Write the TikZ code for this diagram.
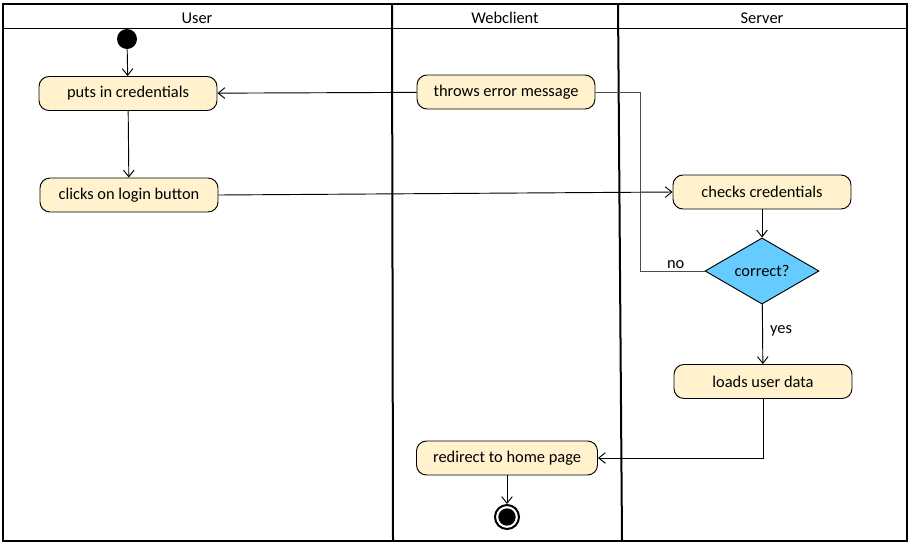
\documentclass[tikz,border=0pt]{standalone}
\usepackage{fontspec}
\setmainfont{Carlito}
\usetikzlibrary{arrows.meta,positioning,shapes.geometric}

\definecolor{actionfill}{RGB}{255,242,204}
\definecolor{decisionfill}{RGB}{102,204,255}

\begin{document}
\begin{tikzpicture}[
    x=0.75pt, y=-0.75pt,
    every path/.style={line width=0.7pt},
    font=\fontsize{12.3}{14}\selectfont,
    action/.style={draw, rounded corners=7.5pt, align=center, minimum width=133.5pt, minimum height=25.5pt, fill=actionfill},
    decision/.style={draw, diamond, fill=decisionfill, minimum width=85.5pt, minimum height=46.5pt, inner sep=0pt},
    initial/.style={circle, fill=black, minimum size=15pt, inner sep=0pt},
    final/.style={circle, draw, line width=1.5pt, minimum size=18pt, inner sep=0pt,
      path picture={\fill (path picture bounding box.center) circle (6.5pt);}},
    arrow/.style={-{Straight Barb[length=5pt,width=8pt]}},
    lane/.style={line width=1.5pt}
  ]
    \useasboundingbox (0,0) rectangle (912,547);

    % swimlanes
    \draw[lane] (3,4) rectangle (907,541);
    \draw (3,28) -- (907,28);
    \draw[lane] (392,4) -- (393,541);
    \draw[lane] (618,4) -- (622,541);
    \node (userlane) at (197,18) {User};
    \node (weblane) at (505,18) {Webclient};
    \node (serverlane) at (762,18) {Server};

    % user
    \node[initial] (start) at (127,39) {};
    \node[action] (puts) at (128,93.5) {puts in credentials};
    \node[action] (clicks) at (129,195) {clicks on login button};

    % webclient
    \node[action] (throws) at (506,92) {throws error message};
    \node[action, minimum width=135.75pt] (redirect) at (507,458) {redirect to home page};
    \node[final] (stop) at (507,517) {};

    % server
    \node[action] (checks) at (762,192) {checks credentials};
    \node[decision] (correct) at (762,271) {correct?};
    \node[action] (loads) at (763,381.5) {loads user data};

    \draw[arrow] (start) -- (puts);
    \draw[arrow] (puts) -- (clicks);
    \draw[arrow] (throws) -- (puts);
    \draw[arrow] (clicks.east) -- (checks.west);
    \draw[arrow] (checks) -- (correct);
    \draw[black!70] (correct.west) -- node[above, black, pos=0.45, yshift=-2pt] {no} ++(-64,0) |- (throws.east);
    \draw[arrow] (correct) -- node[right, xshift=2pt, pos=0.45] {yes} (loads);
    \draw[arrow] (loads.south) |- (redirect.east);
    \draw[arrow] (redirect) -- (stop);
  \end{tikzpicture}
\end{document}
